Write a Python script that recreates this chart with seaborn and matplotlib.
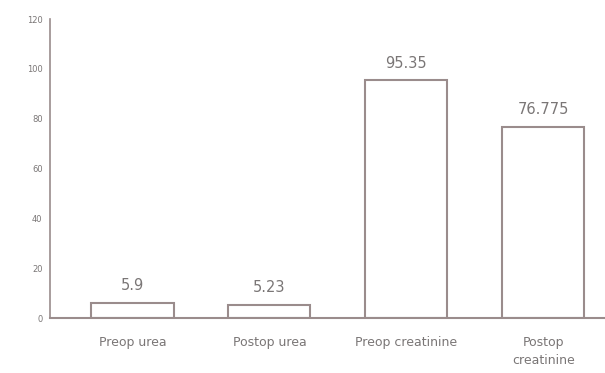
import pandas as pd
import seaborn as sns
import matplotlib.pyplot as plt

# values
categories = ["Preop urea", "Postop urea", "Preop creatinine", "Postop\ncreatinine"]
values = [5.9, 5.23, 95.35, 76.775]
value_labels = ["5.9", "5.23", "95.35", "76.775"]
y_ticks = [0, 20, 40, 60, 80, 100, 120]

df = pd.DataFrame({"test": categories, "value": values})

sns.set_style("white")
plt.rcParams['font.family'] = ['DejaVu Sans']

fig = plt.figure(figsize=(6.05, 3.73), dpi=100)
ax = fig.add_axes([0.083, 0.147, 0.917, 0.802])

line_col = "#9a8c8c"
text_col = "#7a7676"

sns.barplot(data=df, x="test", y="value", color="white", edgecolor=line_col,
            linewidth=1.5, width=0.6, ax=ax)

for i, (v, lab) in enumerate(zip(values, value_labels)):
    ax.text(i, v + 4, lab, ha="center", va="bottom", fontsize=10.5, color=text_col)

ax.set_ylim(0, 120)
ax.set_xlim(-0.6, 3.45)
ax.set_yticks(y_ticks)
ax.set_xlabel("")
ax.set_ylabel("")
ax.tick_params(axis="y", labelsize=6, colors=text_col, length=4, width=1, direction="inout", color=line_col)
ax.tick_params(axis="x", labelsize=9, colors=text_col, length=0, pad=13)
for t in ax.get_xticklabels():
    t.set_linespacing(1.5)

for side in ["top", "right"]:
    ax.spines[side].set_visible(False)
ax.spines["left"].set_color(line_col)
ax.spines["bottom"].set_color(line_col)
ax.spines["left"].set_linewidth(1.2)
ax.spines["bottom"].set_linewidth(1.5)

plt.savefig("out.png", dpi=100)
